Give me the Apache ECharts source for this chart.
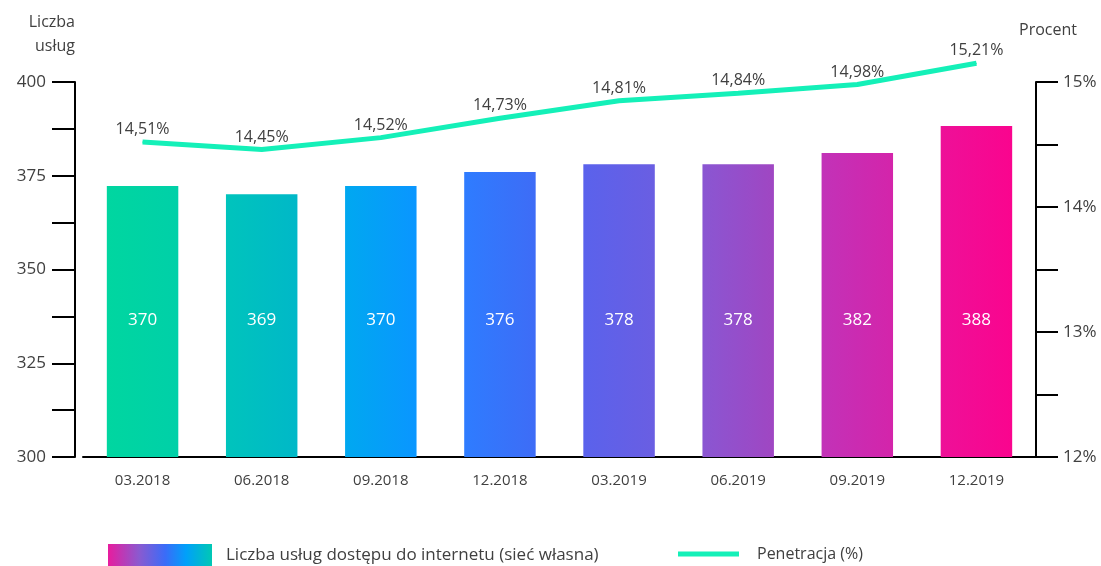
<!DOCTYPE html>
<html>
<head>
<meta charset="utf-8">
<script src="https://cdn.jsdelivr.net/npm/echarts@6/dist/echarts.min.js"></script>
<style>
html, body { margin: 0; padding: 0; background: #fff; }
#main { width: 1101px; height: 566px; }
</style>
</head>
<body>
<div id="main"></div>
<script>
// dane
const kwartaly = ['03.2018', '06.2018', '09.2018', '12.2018', '03.2019', '06.2019', '09.2019', '12.2019'];
// wysokosci slupkow (tys.) i etykiety w slupkach
const liczbaUslug = [372.3, 370.1, 372.3, 376, 378.1, 378.1, 381.1, 388.3];
const liczbaEtykiety = ['370', '369', '370', '376', '378', '378', '382', '388'];
// penetracja (%) - polozenie linii i podpisy
const penetracja = [14.52, 14.46, 14.555, 14.71, 14.85, 14.91, 14.98, 15.15];
const penetracjaEtykiety = ['14,51%', '14,45%', '14,52%', '14,73%', '14,81%', '14,84%', '14,98%', '15,21%'];

const FONT = 'Open Sans';
const TXT = '#404040';

var myChart = echarts.init(document.getElementById('main'));

// gradient wspolny dla wszystkich slupkow (wspolrzedne w pikselach)
var barGradient = new echarts.graphic.LinearGradient(107, 0, 1013, 0, [
    { offset: 0, color: '#00D6A0' },
    { offset: 0.078, color: '#00D0A8' },
    { offset: 0.131, color: '#00C4BC' },
    { offset: 0.211, color: '#00B8C8' },
    { offset: 0.263, color: '#00A8F0' },
    { offset: 0.342, color: '#0A96FF' },
    { offset: 0.394, color: '#2E7CFF' },
    { offset: 0.474, color: '#3E6CF6' },
    { offset: 0.526, color: '#5A62EC' },
    { offset: 0.605, color: '#6A5EE2' },
    { offset: 0.658, color: '#8A56D2' },
    { offset: 0.737, color: '#A046C2' },
    { offset: 0.789, color: '#C232B8' },
    { offset: 0.869, color: '#D424AA' },
    { offset: 0.922, color: '#EE1098' },
    { offset: 1, color: '#FA048E' }
], true);

var legendGradient = new echarts.graphic.LinearGradient(0, 0, 1, 0, [
    { offset: 0, color: '#E81C9E' },
    { offset: 0.3, color: '#8A5AD0' },
    { offset: 0.55, color: '#3A6CF8' },
    { offset: 0.75, color: '#00A0FA' },
    { offset: 1, color: '#00C8B4' }
]);

var option = {
    animation: false,
    textStyle: { fontFamily: FONT },
    grid: { left: 83, right: 65, top: 82, bottom: 109 },
    legend: [
        {
            left: 108,
            top: 544,
            padding: 0,
            itemWidth: 104,
            itemHeight: 23,
            icon: 'rect',
            textStyle: { fontSize: 17, color: TXT, padding: [0, 0, 0, 9], fontFamily: FONT },
            data: [{ name: 'Liczba usług dostępu do internetu (sieć własna)', itemStyle: { color: legendGradient } }]
        },
        {
            left: 678,
            top: 546,
            padding: 0,
            itemWidth: 61,
            itemHeight: 5,
            icon: 'rect',
            textStyle: { fontSize: 16, color: TXT, padding: [0, 0, 0, 13], fontFamily: FONT },
            data: [{ name: 'Penetracja (%)', itemStyle: { color: '#14F0B8' } }]
        }
    ],
    xAxis: {
        type: 'category',
        data: kwartaly,
        axisLine: { lineStyle: { color: '#000', width: 2 } },
        axisTick: { show: false },
        axisLabel: { color: TXT, fontSize: 15, margin: 16 }
    },
    yAxis: [
        {
            type: 'value',
            min: 300,
            max: 400,
            interval: 12.5,
            offset: 8,
            name: 'Liczba\nusług',
            nameGap: 24,
            nameTextStyle: { color: TXT, fontSize: 16, align: 'right', lineHeight: 24 },
            splitLine: { show: false },
            axisLine: { show: true, lineStyle: { color: '#000', width: 2 } },
            axisTick: { show: true, length: 23, lineStyle: { color: '#000', width: 2 } },
            axisLabel: {
                color: TXT, fontSize: 17, margin: 29,
                formatter: function (v) { return v % 25 === 0 ? String(v) : ''; }
            }
        },
        {
            type: 'value',
            min: 12,
            max: 15,
            interval: 0.5,
            position: 'right',
            name: 'Procent',
            nameGap: 44,
            nameTextStyle: { color: TXT, fontSize: 16, align: 'left', padding: [0, 0, 0, -17] },
            splitLine: { show: false },
            axisLine: { show: true, lineStyle: { color: '#000', width: 2 } },
            axisTick: { show: true, length: 22, lineStyle: { color: '#000', width: 2 } },
            axisLabel: {
                color: TXT, fontSize: 17, margin: 27,
                formatter: function (v) { return Number.isInteger(v) ? v + '%' : ''; }
            }
        }
    ],
    series: [
        {
            name: 'Liczba usług dostępu do internetu (sieć własna)',
            type: 'bar',
            data: liczbaUslug,
            barWidth: '60%',
            itemStyle: { color: barGradient },
            label: {
                show: true,
                position: 'insideBottom',
                distance: 128,
                color: '#fff',
                fontSize: 17,
                formatter: function (p) { return liczbaEtykiety[p.dataIndex]; }
            }
        },
        {
            name: 'Penetracja (%)',
            type: 'line',
            yAxisIndex: 1,
            data: penetracja,
            symbol: 'circle',
            symbolSize: 1,
            showSymbol: true,
            clip: false,
            lineStyle: { color: '#14F0B8', width: 5 },
            itemStyle: { color: '#14F0B8' },
            label: {
                show: true,
                position: 'top',
                distance: 4,
                color: TXT,
                fontSize: 16,
                formatter: function (p) { return penetracjaEtykiety[p.dataIndex]; }
            }
        }
    ]
};

myChart.setOption(option);
</script>
</body>
</html>
